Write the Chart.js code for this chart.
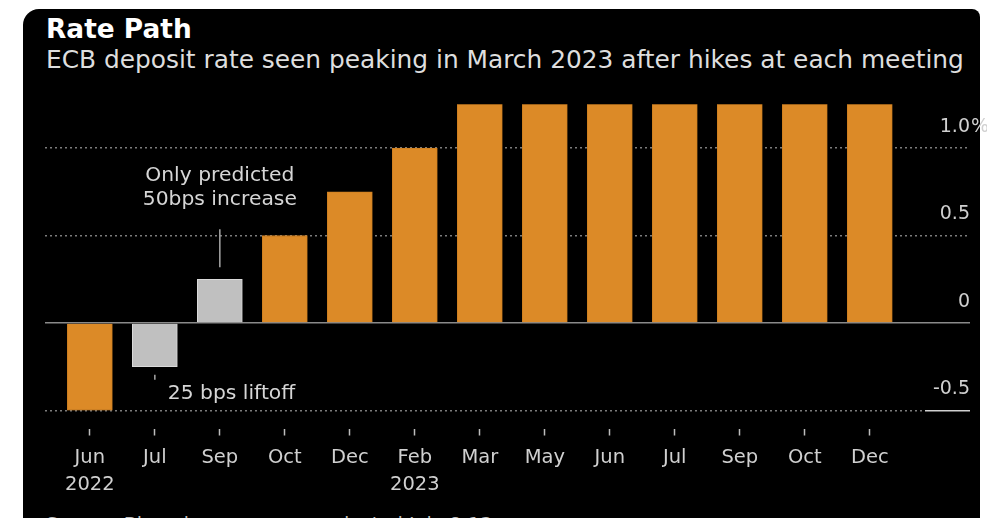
<!DOCTYPE html>
<html>
<head>
<meta charset="utf-8">
<script src="https://cdn.jsdelivr.net/npm/chart.js@4.4.0/dist/chart.umd.min.js"></script>
<style>
  html, body { margin: 0; padding: 0; background: #fff; }
  #wrap { position: relative; width: 987px; height: 518px; overflow: hidden; font-family: "DejaVu Sans", sans-serif; }
  #panel { position: absolute; left: 23px; top: 9px; width: 957px; height: 540px; background: #000; border-radius: 16px 8px 0 0; }
  .txt { position: absolute; left: 46px; line-height: 1; white-space: nowrap; }
  #title { top: 16px; font-size: 26.4px; font-weight: bold; color: #fff; }
  #subtitle { top: 48px; font-size: 24.85px; color: #dedede; }
  #source { top: 515px; font-size: 19px; color: #bdbdbd; }
  #box { position: absolute; left: 0; top: 0; width: 987px; height: 518px; }
</style>
</head>
<body>
<div id="wrap">
  <div id="panel"></div>
  <div class="txt" id="title">Rate Path</div>
  <div class="txt" id="subtitle">ECB deposit rate seen peaking in March 2023 after hikes at each meeting</div>
  <div class="txt" id="source">Source: Bloomberg survey conducted July 8-13</div>
  <div id="box"><canvas id="chart"></canvas></div>
</div>
<script>
// meetings, expected deposit rate (%) after each one
const months = [['Jun', '2022'], 'Jul', 'Sep', 'Oct', 'Dec', ['Feb', '2023'], 'Mar', 'May', 'Jun', 'Jul', 'Sep', 'Oct', 'Dec'];
const depositRate = [-0.5, -0.25, 0.25, 0.5, 0.75, 1.0, 1.25, 1.25, 1.25, 1.25, 1.25, 1.25, 1.25];
const predictedOnly = [1, 2]; // meetings drawn in gray
const yTicks = [-0.5, 0, 0.5, 1.0];
const yTickLabels = ['-0.5', '0', '0.5', '1.0'];
const notes = [
  { index: 2, value: 0.25, lines: ['Only predicted', '50bps increase'] },
  { index: 1, value: -0.25, lines: ['25 bps liftoff'] }
];

const FONT = '"DejaVu Sans", sans-serif';
Chart.defaults.font.family = FONT;

const notePlugin = {
  id: 'notes',
  afterDraw(chart) {
    const { ctx, scales: { x, y } } = chart;
    ctx.save();
    ctx.fillStyle = '#d6d6d6';
    ctx.strokeStyle = '#a8a8a8';
    ctx.lineWidth = 1.5;
    ctx.textBaseline = 'middle';
    ctx.font = '20.3px ' + FONT;

    // above the Sep bar
    const a = notes[0];
    const ax = x.getPixelForValue(a.index);
    const ay = y.getPixelForValue(a.value);
    ctx.beginPath();
    ctx.moveTo(ax, ay - 12);
    ctx.lineTo(ax, ay - 50);
    ctx.stroke();
    ctx.textAlign = 'center';
    a.lines.forEach((t, i) => ctx.fillText(t, ax, ay - 104 + i * 24));

    // below the Jul bar
    const b = notes[1];
    const bx = x.getPixelForValue(b.index);
    const by = y.getPixelForValue(b.value);
    ctx.beginPath();
    ctx.moveTo(bx, by + 8);
    ctx.lineTo(bx, by + 13);
    ctx.stroke();
    ctx.textAlign = 'left';
    ctx.fillText(b.lines[0], bx + 13, by + 27);

    // percent sign after the top tick label
    ctx.font = '19px ' + FONT;
    ctx.fillStyle = '#d0d0d0';
    ctx.fillText('%', y.right + 1, y.getPixelForValue(yTicks[yTicks.length - 1]) - 21);
    ctx.restore();
  }
};

const lineCol = '#7c7c7c';

new Chart(document.getElementById('chart'), {
  type: 'bar',
  data: {
    datasets: [{
      data: depositRate.map((v, i) => ({ x: i, y: v })),
      backgroundColor: c => predictedOnly.includes(c.dataIndex) ? '#c0c0c0' : '#dc8a27',
      borderColor: c => predictedOnly.includes(c.dataIndex) ? '#dadada' : '#d08020',
      borderWidth: 1,
      barThickness: 45
    }]
  },
  options: {
    responsive: true,
    maintainAspectRatio: false,
    animation: false,
    layout: { padding: { left: 45, top: 104.25, right: 17, bottom: 0 } },
    plugins: { legend: { display: false }, tooltip: { enabled: false } },
    scales: {
      x: {
        type: 'linear',
        offset: false,
        min: -0.69,
        max: 12.85,
        afterBuildTicks: s => { s.ticks = months.map((_, i) => ({ value: i })); },
        afterFit: s => { s.height = 107.5; },
        grid: {
          offset: false,
          drawOnChartArea: false,
          tickLength: 25,
          tickColor: '#bdbdbd',
          tickWidth: 1.5,
          tickBorderDash: [0, 18, 7, 60]
        },
        border: { display: false },
        ticks: {
          autoSkip: false,
          maxRotation: 0,
          padding: 9,
          color: '#d0d0d0',
          font: { size: 19.5, lineHeight: 1.37 },
          callback: v => months[v]
        }
      },
      y: {
        position: 'right',
        min: -0.5,
        max: 1.25,
        afterBuildTicks: s => { s.ticks = yTicks.map(v => ({ value: v })); },
        afterFit: s => { s.width = 45; },
        grid: {
          color: c => (c.tick && c.tick.value === 0) ? '#8a8a8a' : lineCol,
          lineWidth: 1.5,
          tickLength: 45,
          tickWidth: 1.5,
          tickColor: c => c.tick.value === -0.5 ? '#d0d0d0' : (c.tick.value === 0 ? '#8a8a8a' : lineCol),
          tickBorderDash: c => (c.tick.value === 0 || c.tick.value === -0.5) ? [] : [2, 3]
        },
        border: {
          display: false,
          dash: c => (c.tick && c.tick.value === 0) ? [] : [2, 3]
        },
        ticks: {
          crossAlign: 'far',
          labelOffset: -21,
          color: '#d0d0d0',
          font: { size: 19 },
          callback: v => yTickLabels[yTicks.indexOf(v)]
        }
      }
    }
  },
  plugins: [notePlugin]
});
</script>
</body>
</html>
